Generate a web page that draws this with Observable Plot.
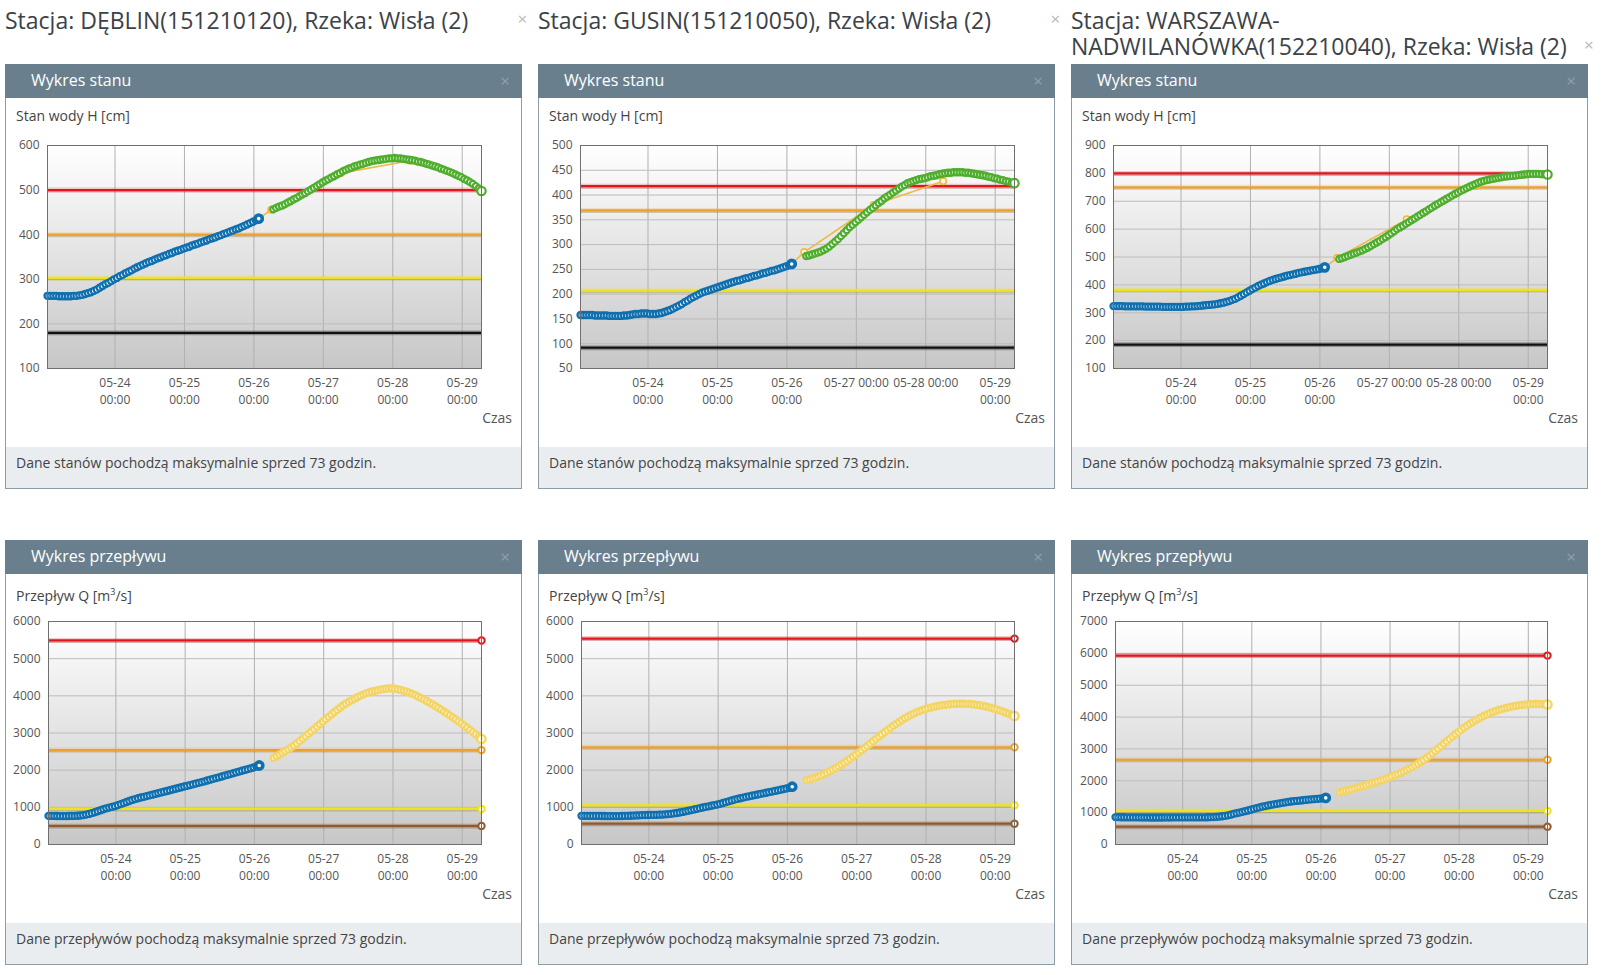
<!DOCTYPE html>
<html><head><meta charset="utf-8">
<script src="https://cdn.jsdelivr.net/npm/d3@7"></script>
<script src="https://cdn.jsdelivr.net/npm/@observablehq/plot@0.6"></script>
<style>
body{margin:0;background:#fff;font-family:"Open Sans",sans-serif;width:1610px;height:975px;overflow:hidden;position:relative}
.title{position:absolute;top:7px;font-size:23px;line-height:26px;color:#3b4248;white-space:nowrap}
.tx{position:absolute;color:#b8b8b8;font-size:17px;line-height:16px}
.panel{position:absolute;width:517px;height:425px;border:1px solid #8e9ca6;box-sizing:border-box;background:#fff}
.hdr{position:absolute;left:-1px;top:-1px;right:-1px;height:34px;background:#6a7f8d;color:#fff;font-size:16px;line-height:33px;padding-left:26px}
.hdr .x{position:absolute;right:12px;top:0;color:#8fa1ad;font-size:17px}
.ylab{position:absolute;left:10px;top:42px;font-size:14px;line-height:18px;color:#444}
.czas{position:absolute;right:9px;top:344px;font-size:14px;line-height:18px;color:#555}
.foot{position:absolute;left:0;right:0;bottom:0;height:41px;background:#e9edf0;font-size:14px;line-height:32px;color:#444;padding-left:10px}
.chart{position:absolute;left:0;top:70px}
</style></head><body>
<div id="root"></div>
<script>
// ---------- DATA ----------
const stationTitles = [
  "Stacja: DĘBLIN(151210120), Rzeka: Wisła (2)",
  "Stacja: GUSIN(151210050), Rzeka: Wisła (2)",
  "Stacja: WARSZAWA-<br>NADWILANÓWKA(152210040), Rzeka: Wisła (2)"
];
const obsStart = "2010-05-23T00:40Z";      // hourly observations
const fcStart = "2010-05-26T06:40Z";       // hourly forecast
const axisEnd = "2010-05-29T06:40Z";
const dayTicks = ["2010-05-24","2010-05-25","2010-05-26","2010-05-27","2010-05-28","2010-05-29"];
const altTimes = ["2010-05-26T01:40Z","2010-05-26T06:00Z","2010-05-27T06:00Z","2010-05-28T06:00Z"];

// Stan wody H [cm]
const hTicksDeblin = [100,200,300,400,500,600];
const hTicksGusin = [50,100,150,200,250,300,350,400,450,500];
const hTicksWarszawa = [100,200,300,400,500,600,700,800,900];
const hThrDeblin = [500,400,303,180];
const hThrGusin = [418,369,207,92];
const hThrWarszawa = [800,750,382,186];

const hObsDeblin = [263,263,263,263,262,262,262,262,262,263,263,264,265,267,269,271,274,277,281,285,289,292,296,300,303,307,310,314,317,320,324,327,330,333,336,339,341,344,347,349,352,354,357,359,362,364,366,369,371,373,376,378,380,383,385,387,390,392,394,397,399,402,404,407,409,412,414,417,420,423,426,429,432,436];
const hFcDeblin = [457,460,463,465,468,472,475,479,482,486,490,493,497,501,505,509,513,517,521,524,528,531,535,538,542,545,548,550,553,555,557,559,561,563,565,566,567,568,569,570,571,571,572,571,571,570,569,568,567,566,564,563,561,559,557,555,553,551,548,546,543,541,538,535,532,529,525,522,518,514,509,504,498];
const hAltDeblin = [436,456,538,566];

const hObsGusin = [158,158,158,158,158,157,157,157,157,157,156,156,156,156,156,157,157,158,159,160,160,161,161,161,160,160,160,161,162,164,166,168,171,174,177,180,184,187,191,194,197,200,203,205,207,209,211,213,215,217,219,221,223,225,227,228,230,232,233,235,237,238,240,242,243,245,247,248,250,252,254,256,258,261];
const hFcGusin = [277,278,280,282,284,286,289,292,296,301,306,311,317,323,329,335,340,345,350,355,360,365,370,374,379,384,388,393,397,401,405,409,413,417,420,424,426,428,430,432,433,434,436,438,439,440,442,443,444,445,445,446,446,446,446,445,445,444,443,442,441,440,439,437,436,434,433,431,430,428,427,425,424];
const hAltGusin = [261,285,380,428];

const hObsWarszawa = [324,324,324,324,323,323,323,323,323,323,323,322,322,322,322,322,322,321,321,321,321,321,321,321,321,322,322,323,323,324,325,326,327,328,329,330,332,334,336,339,342,346,350,355,361,367,373,379,385,390,396,401,405,410,414,418,421,424,427,430,433,435,438,440,443,445,447,449,451,453,455,457,459,463];
const hFcWarszawa = [493,496,500,504,508,512,516,520,524,529,534,540,546,552,558,565,571,578,585,592,600,606,612,619,625,632,638,645,651,658,664,671,677,684,690,696,702,708,714,720,726,731,737,742,747,752,757,761,766,770,773,776,778,780,782,784,786,788,789,790,791,792,794,795,796,797,798,798,798,798,797,797,796];
const hAltWarszawa = [463,497,635,755];

// Przepływ Q [m3/s]
const qTicksDeblin = [0,1000,2000,3000,4000,5000,6000];
const qTicksGusin = [0,1000,2000,3000,4000,5000,6000];
const qTicksWarszawa = [0,1000,2000,3000,4000,5000,6000,7000];
const qThrDeblin = [5490,2540,955,500];
const qThrGusin = [5540,2615,1055,560];
const qThrWarszawa = [5930,2660,1055,560];

const qObsDeblin = [770,769,768,767,766,766,766,767,768,770,774,780,790,804,822,844,868,895,922,948,972,993,1012,1030,1058,1087,1115,1143,1171,1198,1222,1244,1265,1284,1302,1320,1340,1360,1380,1400,1420,1440,1460,1480,1500,1520,1540,1560,1580,1600,1620,1640,1660,1680,1701,1722,1743,1764,1786,1808,1830,1852,1874,1896,1918,1940,1962,1984,2006,2028,2050,2072,2096,2125];
const qFcDeblin = [2330,2374,2420,2467,2514,2562,2610,2665,2720,2780,2845,2910,2975,3040,3105,3170,3237,3303,3370,3435,3498,3560,3620,3680,3740,3790,3835,3880,3922,3962,4000,4035,4066,4094,4118,4136,4150,4168,4182,4193,4200,4198,4190,4176,4158,4136,4111,4083,4052,4018,3982,3944,3904,3862,3818,3773,3726,3678,3629,3579,3528,3476,3423,3369,3314,3258,3201,3143,3084,3024,2963,2901,2838];

const qObsGusin = [772,771,770,770,769,768,768,767,767,766,766,765,765,766,767,769,771,774,777,781,785,789,792,794,796,797,799,802,806,811,818,826,836,848,861,876,892,909,926,943,960,978,995,1012,1028,1043,1058,1075,1095,1117,1140,1163,1185,1206,1226,1245,1263,1280,1297,1313,1329,1345,1361,1377,1393,1409,1425,1441,1457,1474,1491,1508,1526,1555];
const qFcGusin = [1730,1752,1776,1802,1830,1860,1893,1930,1970,2012,2056,2102,2150,2200,2252,2306,2361,2417,2474,2532,2592,2652,2713,2775,2837,2899,2960,3020,3079,3136,3192,3246,3298,3348,3395,3440,3482,3520,3555,3586,3614,3640,3663,3684,3703,3720,3735,3748,3759,3768,3776,3782,3786,3788,3788,3786,3782,3776,3768,3758,3746,3731,3714,3695,3674,3651,3627,3601,3574,3546,3517,3487,3456];

const qObsWarszawa = [860,858,856,855,853,852,851,850,850,849,849,849,848,848,848,848,848,849,849,849,850,850,850,850,850,851,851,852,852,853,853,854,856,858,862,868,876,886,898,915,935,960,982,1003,1024,1045,1068,1092,1117,1142,1165,1187,1207,1226,1244,1261,1277,1293,1308,1322,1336,1349,1360,1370,1380,1389,1398,1407,1416,1425,1434,1443,1452,1462];
const qFcWarszawa = [1640,1664,1688,1713,1738,1763,1788,1814,1840,1866,1893,1920,1948,1977,2007,2038,2070,2103,2137,2173,2211,2251,2293,2337,2383,2431,2482,2535,2591,2650,2720,2790,2862,2936,3011,3087,3163,3239,3314,3388,3460,3530,3598,3664,3727,3787,3844,3898,3949,3997,4042,4084,4123,4159,4192,4222,4250,4276,4299,4320,4338,4354,4368,4380,4390,4398,4404,4408,4410,4410,4407,4402,4395];

// ---------- STYLE ----------
const BLUE = "#0f6faf", GREEN = "#4fae2e", FCY = "#f3d466", ALT = "#f0b944";
const hThrColors = ["#e3161c","#eda12c","#f0e21b","#111111"];
const qThrColors = ["#e3161c","#eda12c","#f0e21b","#8f5b2d"];

const HOUR = 3600e3;
const toSeries = (start, vals) => vals.map((v, i) => ({t: new Date(+new Date(start) + i * HOUR), v}));
const X0 = new Date(obsStart), X1 = new Date(axisEnd);
const ticksX = dayTicks.map(d => new Date(d + "T00:00Z"));

let gidN = 0;
function chart({obs, fc, alt, thr, thrColors, yTicks, ml, flow, single}) {
  const gid = "bg" + (gidN++);
  const o = toSeries(obsStart, obs), f = toSeries(fcStart, fc);
  const thrData = thr.map((v, i) => ({v, c: thrColors[i]}));
  const marks = [
    Plot.frame({fill: `url(#${gid})`}),
    Plot.gridX(ticksX, {stroke: "#b1b1b1", strokeOpacity: 1}),
    Plot.gridY(yTicks, {stroke: "#bcbcbc", strokeOpacity: 1}),
    Plot.ruleY(thrData, {y: "v", stroke: "c", strokeWidth: 5, strokeOpacity: 0.22}),
    Plot.ruleY(thrData, {y: "v", stroke: "#000", strokeWidth: 2, strokeOpacity: 0.12, dy: 1.5}),
    Plot.ruleY(thrData, {y: "v", stroke: "c", strokeWidth: 2.2})
  ];
  if (alt) {
    const a = alt.map((v, i) => ({t: new Date(altTimes[i]), v}));
    marks.push(Plot.line(a, {x: "t", y: "v", stroke: ALT, strokeWidth: 1.6}));
    marks.push(Plot.dot(a.slice(1), {x: "t", y: "v", r: 3.2, stroke: ALT, strokeWidth: 1.6, fill: "#fff8e0"}));
  }
  const fcol = flow ? FCY : GREEN;
  const ffill = flow ? "#fff7d6" : "#ffffff";
  marks.push(
    Plot.line(f, {x: "t", y: "v", stroke: fcol, strokeWidth: 2}),
    Plot.dot(f, {x: "t", y: "v", r: 3, stroke: fcol, strokeWidth: 2.3, fill: ffill}),
    Plot.dot(f.slice(-1), {x: "t", y: "v", r: 4.2, stroke: fcol, strokeWidth: 2.2, fill: ffill}),
    Plot.line(o, {x: "t", y: "v", stroke: BLUE, strokeWidth: 2}),
    Plot.dot(o, {x: "t", y: "v", r: 3, stroke: BLUE, strokeWidth: 2.3, fill: "white"}),
    Plot.dot(o.slice(-1), {x: "t", y: "v", r: 3.6, stroke: BLUE, strokeWidth: 3.6, fill: "white"})
  );
  if (flow) {
    marks.push(Plot.dot(thrData, {x: () => X1, y: "v", r: 3.2, stroke: "c", strokeWidth: 2, fill: "white"}));
  }
  marks.push(
    Plot.frame({stroke: "#6f6f6f"}),
    Plot.axisY(yTicks, {tickSize: 0, tickPadding: 8, label: null, fontSize: 12, tickFormat: d => String(d)}),
    Plot.axisX(ticksX, {tickSize: 0, tickPadding: 6, label: null, fontSize: 12, lineHeight: 1.45,
      tickFormat: d => {
        const s = d3.utcFormat("%m-%d")(d);
        return (single && single.includes(s)) ? s + " 00:00" : s + "\n00:00";
      }})
  );
  const svg = Plot.plot({
    width: 515, height: 278,
    marginTop: 10, marginBottom: 45, marginLeft: ml, marginRight: 40,
    style: {fontFamily: '"Open Sans", sans-serif', fontSize: "12px", color: "#555", background: "transparent", overflow: "visible"},
    x: {type: "utc", domain: [X0, X1]},
    y: {domain: [yTicks[0], yTicks[yTicks.length - 1]]},
    color: {type: "identity"},
    marks
  });
  const defs = d3.select(svg).insert("defs", ":first-child");
  const lg = defs.append("linearGradient").attr("id", gid).attr("x1", 0).attr("y1", 0).attr("x2", 0).attr("y2", 1);
  lg.append("stop").attr("offset", "0%").attr("stop-color", "#ffffff");
  lg.append("stop").attr("offset", "100%").attr("stop-color", "#c7c7c7");
  svg.classList.add("chart");
  return svg;
}

const colLeft = [5, 538, 1071];
const xPos = [[517.5, 11], [1050.5, 10.5], [1584, 37]];
const root = document.getElementById("root");
const configs = [
  {h: {obs: hObsDeblin, fc: hFcDeblin, alt: hAltDeblin, thr: hThrDeblin, yTicks: hTicksDeblin, ml: 41},
   q: {obs: qObsDeblin, fc: qFcDeblin, thr: qThrDeblin, yTicks: qTicksDeblin, ml: 42}},
  {h: {obs: hObsGusin, fc: hFcGusin, alt: hAltGusin, thr: hThrGusin, yTicks: hTicksGusin, ml: 41, single: ["05-27","05-28"]},
   q: {obs: qObsGusin, fc: qFcGusin, thr: qThrGusin, yTicks: qTicksGusin, ml: 42}},
  {h: {obs: hObsWarszawa, fc: hFcWarszawa, alt: hAltWarszawa, thr: hThrWarszawa, yTicks: hTicksWarszawa, ml: 41, single: ["05-27","05-28"]},
   q: {obs: qObsWarszawa, fc: qFcWarszawa, thr: qThrWarszawa, yTicks: qTicksWarszawa, ml: 43}}
];

function el(tag, cls, html, parent) {
  const e = document.createElement(tag);
  if (cls) e.className = cls;
  if (html != null) e.innerHTML = html;
  parent.appendChild(e);
  return e;
}

configs.forEach((cfg, c) => {
  const t = el("div", "title", stationTitles[c], root);
  t.style.left = colLeft[c] + "px";
  const x = el("div", "tx", "×", root);
  x.style.left = xPos[c][0] + "px"; x.style.top = xPos[c][1] + "px";

  [["h", 64, "Wykres stanu", "Stan wody H [cm]", "Dane stanów pochodzą maksymalnie sprzed 73 godzin."],
   ["q", 540, "Wykres przepływu", "Przepływ Q [m<sup style=\"font-size:9px\">3</sup>/s]", "Dane przepływów pochodzą maksymalnie sprzed 73 godzin."]]
  .forEach(([k, top, hdr, ylab, foot]) => {
    const p = el("div", "panel", null, root);
    p.style.left = colLeft[c] + "px"; p.style.top = top + "px";
    const h = el("div", "hdr", hdr, p);
    el("span", "x", "×", h);
    el("div", "ylab", ylab, p);
    p.appendChild(chart({...cfg[k], flow: k === "q", thrColors: k === "q" ? qThrColors : hThrColors}));
    el("div", "czas", "Czas", p);
    el("div", "foot", foot, p);
  });
});
</script>
</body></html>
